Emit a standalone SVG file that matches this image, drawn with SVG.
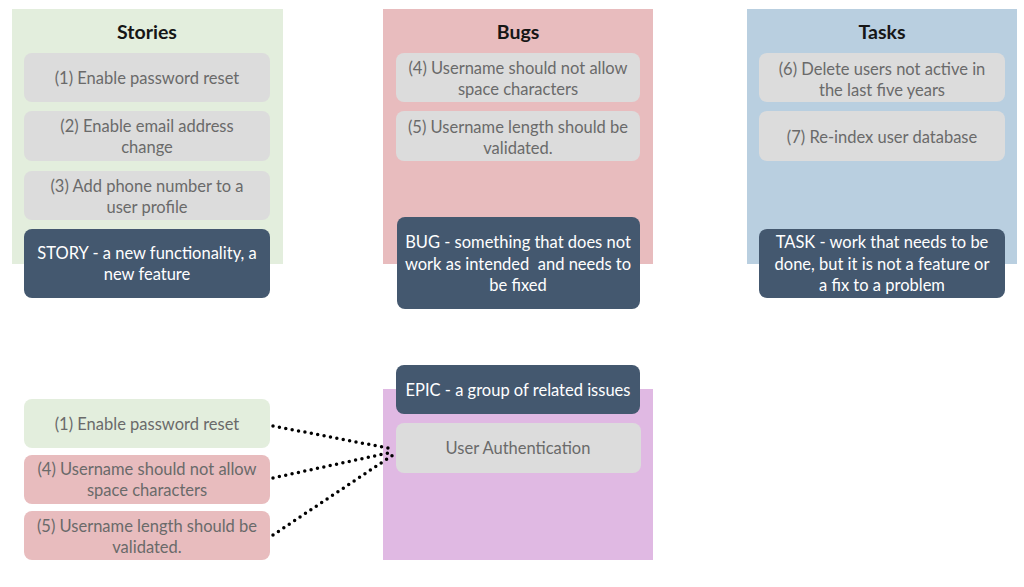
<svg xmlns="http://www.w3.org/2000/svg" width="1024" height="587" viewBox="0 0 1024 587">
<style>
.t{font-family:Lato,"Open Sans",sans-serif;font-size:16.5px;text-anchor:middle}
.g{fill:#6a6a6a}
.w{fill:#ffffff}
.h{font-family:Lato,"Open Sans",sans-serif;font-size:19.5px;font-weight:bold;fill:#161616;text-anchor:middle}
.lb{fill:#dcdcdc}
.db{fill:#44586f}
.cn{stroke:#000;stroke-width:3.5;stroke-dasharray:0 6.5;stroke-linecap:round;fill:none}
</style>
<rect width="1024" height="587" fill="#ffffff"/>
<g id="stories">
<rect x="12" y="9" width="271" height="255" fill="#e3eedd"/>
<text class="h" x="147" y="39">Stories</text>
</g>
<g id="bugs">
<rect x="383" y="9" width="270" height="255" fill="#e8bcbe"/>
<text class="h" x="518" y="39">Bugs</text>
</g>
<g id="tasks">
<rect x="747" y="9" width="270" height="255" fill="#b9cfe0"/>
<text class="h" x="882" y="39">Tasks</text>
</g>
<g id="epic">
<rect x="383" y="389" width="270" height="171" fill="#e0b9e3"/>
</g>
<g id="s1"><rect class="lb" x="24" y="53" width="246" height="49" rx="8"/><text class="t g" x="147" y="84">(1) Enable password reset</text></g>
<g id="s2"><rect class="lb" x="24" y="111" width="246" height="50" rx="8"/><text class="t g" x="147" y="132">(2) Enable email address</text><text class="t g" x="147" y="153">change</text></g>
<g id="s3"><rect class="lb" x="24" y="171" width="246" height="49" rx="8"/><text class="t g" x="147" y="192">(3) Add phone number to a</text><text class="t g" x="147" y="213">user profile</text></g>
<g id="sdef"><rect class="db" x="24" y="229" width="246" height="69" rx="8"/><text class="t w" x="147" y="259">STORY - a new functionality, a</text><text class="t w" x="147" y="280">new feature</text></g>
<g id="b4"><rect class="lb" x="396" y="53" width="244" height="49" rx="8"/><text class="t g" x="518" y="74">(4) Username should not allow</text><text class="t g" x="518" y="95">space characters</text></g>
<g id="b5"><rect class="lb" x="396" y="111" width="244" height="50" rx="8"/><text class="t g" x="518" y="133">(5) Username length should be</text><text class="t g" x="518" y="154">validated.</text></g>
<g id="bdef"><rect class="db" x="397" y="217" width="243" height="92" rx="8"/><text class="t w" x="518" y="248">BUG - something that does not</text><text class="t w" x="518" y="270">work as intended&#160; and needs to</text><text class="t w" x="518" y="291">be fixed</text></g>
<g id="t6"><rect class="lb" x="759" y="53" width="246" height="49" rx="8"/><text class="t g" x="882" y="75">(6) Delete users not active in</text><text class="t g" x="882" y="96">the last five years</text></g>
<g id="t7"><rect class="lb" x="759" y="111" width="246" height="50" rx="8"/><text class="t g" x="882" y="143">(7) Re-index user database</text></g>
<g id="tdef"><rect class="db" x="759" y="229" width="246" height="69" rx="8"/><text class="t w" x="882" y="248">TASK - work that needs to be</text><text class="t w" x="882" y="270">done, but it is not a feature or</text><text class="t w" x="882" y="291">a fix to a problem</text></g>
<g id="edef"><rect class="db" x="396" y="365" width="244" height="49" rx="8"/><text class="t w" x="518" y="396">EPIC - a group of related issues</text></g>
<g id="ua"><rect class="lb" x="396" y="423" width="245" height="50" rx="8"/><text class="t g" x="518" y="454">User Authentication</text></g>
<g id="l1"><rect x="24" y="399" width="246" height="49" rx="8" fill="#e3eedd"/><text class="t g" x="147" y="430">(1) Enable password reset</text></g>
<g id="l4"><rect x="24" y="455" width="246" height="49" rx="8" fill="#e8bcbe"/><text class="t g" x="147" y="475">(4) Username should not allow</text><text class="t g" x="147" y="496">space characters</text></g>
<g id="l5"><rect x="24" y="511" width="246" height="49" rx="8" fill="#e8bcbe"/><text class="t g" x="147" y="532">(5) Username length should be</text><text class="t g" x="147" y="553">validated.</text></g>
<g id="connectors">
<line class="cn" x1="273" y1="426" x2="393" y2="449"/>
<line class="cn" x1="273" y1="478" x2="393" y2="452"/>
<line class="cn" x1="273" y1="535" x2="393" y2="455"/>
</g>
</svg>
